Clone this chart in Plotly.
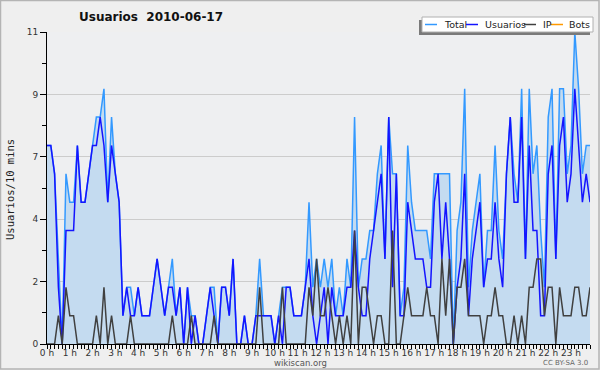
import plotly.graph_objects as go

# 10-minute slots, 0..143
usuarios = [7,7,6,2,0,4,4,4,7,5,5,6,7,7,8,7,5,7,6,5,
            1,2,1,1,2,1,1,1,2,3,2,1,2,2,1,2,0,2,0,1,
            0,0,1,2,1,0,2,2,1,3,0,0,1,0,0,1,1,1,1,1,
            0,1,0,2,2,1,1,1,2,3,1,0,1,2,0,2,1,1,1,2,
            2,4,2,1,1,3,4,5,6,3,8,2,6,1,1,5,4,3,3,3,
            2,2,5,6,3,5,3,0,2,3,6,1,3,4,5,2,3,3,5,3,
            2,6,8,5,5,8,3,7,4,4,1,1,6,7,3,7,8,5,6,9,
            7,5,6,5]
ip = [0,0,0,1,0,2,1,1,0,0,0,0,0,1,0,2,0,1,0,0,
      0,0,1,0,0,0,0,0,0,0,0,0,0,1,0,0,0,0,1,0,
      0,0,0,0,1,0,0,0,0,0,0,0,0,0,0,0,2,0,0,0,
      0,0,2,0,0,0,0,0,0,2,1,3,1,1,2,1,0,1,0,1,
      0,4,0,2,2,1,0,1,1,0,0,4,0,0,1,2,1,1,1,1,
      2,1,1,0,3,1,3,0,2,2,3,1,1,1,1,0,1,1,2,1,
      1,0,0,1,0,1,0,2,2,3,3,1,2,2,0,2,1,1,1,2,
      2,1,1,2]
total = [7,7,6,3,0,6,5,5,7,5,5,6,7,8,8,9,5,8,6,5,
         1,2,2,1,2,1,1,1,2,3,2,1,2,3,1,2,0,2,1,1,
         0,0,1,2,2,0,2,2,1,3,0,0,1,0,0,1,3,1,1,1,
         0,1,2,2,2,1,1,1,2,5,2,3,2,3,2,3,1,2,1,3,
         2,8,2,3,3,4,4,6,7,3,8,6,6,1,2,7,5,4,4,4,
         4,3,6,6,6,6,6,0,4,5,9,2,4,5,6,2,4,4,7,4,
         3,6,8,6,5,9,3,9,6,7,4,2,8,9,3,9,9,6,7,11,
         9,6,7,7]
bots = [0] * 144
slots = list(range(144))
hour_labels = [f"{h} h" for h in range(24)]
y_tickvals = [0, 2.2, 4.4, 6.6, 8.8, 11]
y_ticktext = ["0", "2", "4", "7", "9", "11"]

W, H = 600, 370
L, R, T, B = 47, 10, 32, 26
PW, PH = W - L - R, H - T - B

def px(x):
    return (x - L) / PW

def py(y):
    return (H - B - y) / PH

fig = go.Figure()
fig.add_trace(go.Scatter(x=slots, y=bots, mode="lines", line=dict(color="#ff9900", width=1.5)))
fig.add_trace(go.Scatter(x=slots, y=total, mode="lines", fill="tozeroy",
                         fillcolor="#c4dbf0", line=dict(color="#3399ff", width=1.5)))
fig.add_trace(go.Scatter(x=slots, y=usuarios, mode="lines", line=dict(color="#1414ff", width=1.5)))
fig.add_trace(go.Scatter(x=slots, y=ip, mode="lines", line=dict(color="#404040", width=1.5)))

xt_vals = slots
xt_text = [hour_labels[i // 6] if i % 6 == 0 else "" for i in slots]

fig.update_layout(
    width=W, height=H, showlegend=False,
    margin=dict(l=L, r=R, t=T, b=B, pad=0),
    paper_bgcolor="#efefef", plot_bgcolor="#eeeff1",
    font=dict(family="DejaVu Sans", size=10, color="#333"),
    xaxis=dict(range=[0, 143], tickmode="array", tickvals=xt_vals, ticktext=xt_text,
               ticks="outside", ticklen=4, tickcolor="#000", tickwidth=1,
               showline=True, linecolor="#000", linewidth=1, showgrid=False,
               zeroline=False, tickfont=dict(size=9, color="#333"), ticklabelstandoff=-4),
    yaxis=dict(range=[0, 11], tickmode="array", tickvals=y_tickvals, ticktext=y_ticktext,
               ticks="outside", ticklen=6, tickcolor="#000", tickwidth=1,
               showline=True, linecolor="#000", linewidth=1,
               showgrid=True, gridcolor="#cccccc", gridwidth=1, zeroline=False,
               tickfont=dict(size=9, color="#333"),
               minor=dict(tickmode="array", tickvals=[1.1 * k for k in range(11)],
                          ticks="outside", ticklen=4, tickcolor="#000", showgrid=False)),
)

shapes = []
# outer border
shapes.append(dict(type="rect", xref="paper", yref="paper", x0=px(0.5), x1=px(599), y0=py(0.5), y1=py(369),
                   line=dict(color="#b4b4b4", width=1.5), fillcolor="rgba(0,0,0,0)", layer="above"))
# legend shadow and box
shapes.append(dict(type="rect", xref="paper", yref="paper", x0=px(419), x1=px(590), y0=py(20), y1=py(35),
                   line=dict(width=0), fillcolor="#7a7a7a", layer="above"))
shapes.append(dict(type="rect", xref="paper", yref="paper", x0=px(422), x1=px(593), y0=py(17), y1=py(32),
                   line=dict(color="#b0b0b0", width=1), fillcolor="#ffffff", layer="above"))
legend_items = [("Total", "#3399ff", 425, 442), ("Usuarios", "#1414ff", 466, 483),
                ("IP", "#404040", 524, 541), ("Bots", "#ff9900", 551, 567)]
annotations = []
for name, col, lx, tx in legend_items:
    shapes.append(dict(type="line", xref="paper", yref="paper", x0=px(lx), x1=px(lx + 12),
                       y0=py(24.5), y1=py(24.5), line=dict(color=col, width=1.5), layer="above"))
    annotations.append(dict(text=name, xref="paper", yref="paper", x=px(tx), y=py(24.5),
                            xanchor="left", yanchor="middle", showarrow=False,
                            font=dict(size=9.5, color="#222")))

annotations += [
    dict(text="<b>Usuarios  2010-06-17</b>", xref="paper", yref="paper", x=px(151), y=py(17),
         xanchor="center", yanchor="middle", showarrow=False, font=dict(size=12, color="#111")),
    dict(text="Usuarios/10 mins", xref="paper", yref="paper", x=px(10), y=py(190),
         xanchor="center", yanchor="middle", showarrow=False, textangle=-90,
         font=dict(family="DejaVu Sans Mono", size=10.5, color="#222")),
    dict(text="wikiscan.org", xref="paper", yref="paper", x=px(300), y=py(363),
         xanchor="center", yanchor="middle", showarrow=False, font=dict(size=8.5, color="#555")),
    dict(text="CC BY-SA 3.0", xref="paper", yref="paper", x=px(590), y=py(363),
         xanchor="right", yanchor="middle", showarrow=False, font=dict(size=7, color="#666")),
]
fig.update_layout(shapes=shapes, annotations=annotations)
fig.write_html("out.html", config={"displayModeBar": False},
               post_script="document.body.style.margin='0';document.body.style.overflow='hidden';")
